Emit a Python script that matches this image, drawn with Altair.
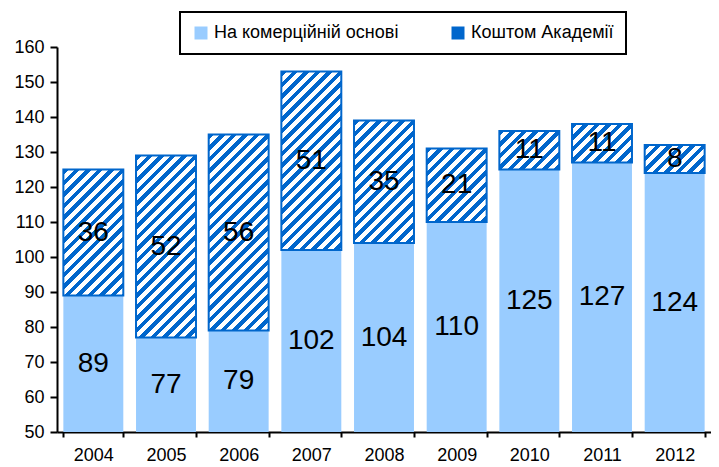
import altair as alt
import pandas as pd

# ---- data ----
years = ["2004", "2005", "2006", "2007", "2008", "2009", "2010", "2011", "2012"]
commercial = [89, 77, 79, 102, 104, 110, 125, 127, 124]
academy = [36, 52, 56, 51, 35, 21, 11, 11, 8]
series_names = ["На комерційній основі", "Коштом Академії"]
y_ticks = [50, 60, 70, 80, 90, 100, 110, 120, 130, 140, 150, 160]

# ---- layout / style ----
Y_MIN, Y_MAX = 50, 160
PLOT_W, PLOT_H = 654, 385
PAD_IN, PAD_OUT = 0.175, 0.0875
LIGHT = "#99CCFF"
DARK = "#0066CC"
FONT = "Liberation Sans"

step = PLOT_W / (len(years) - PAD_IN + 2 * PAD_OUT)
BAR_W = step * (1 - PAD_IN)
PX_PER_UNIT = PLOT_H / (Y_MAX - Y_MIN)


def hatch(W, H, period=11.5, frac=0.48):
    """Diagonal (/) stripes as a hard-stop linear gradient in bbox units."""
    S = W + H
    d = W * W + H * H
    x2 = (W + H) * W / d
    y2 = (W + H) * H / d
    stops = []
    pos = 0.0
    while pos < S:
        a = pos / S
        b = min((pos + period * frac) / S, 1.0)
        c = min((pos + period) / S, 1.0)
        stops += [(DARK, a), (DARK, b), ("#FFFFFF", b), ("#FFFFFF", c)]
        pos += period
    return {"gradient": "linear", "x1": 0, "y1": 0, "x2": x2, "y2": y2,
            "stops": [{"color": col, "offset": off} for col, off in stops]}


base_df = pd.DataFrame({
    "year": years,
    "series": series_names[0],
    "start": [0] * len(years),
    "end": commercial,
    "label": commercial,
    "mid": [(Y_MIN + c) / 2 for c in commercial],
})
top_df = pd.DataFrame({
    "year": years,
    "series": series_names[1],
    "start": commercial,
    "end": [c + a for c, a in zip(commercial, academy)],
    "label": academy,
    "mid": [c + a / 2 for c, a in zip(commercial, academy)],
})
labels_df = pd.concat([base_df, top_df], ignore_index=True)

x_scale = alt.Scale(domain=years, paddingInner=PAD_IN, paddingOuter=PAD_OUT)
x_axis = alt.Axis(
    title=None, labelAngle=0, tickBand="extent",
    domainColor="black", domainWidth=2, tickColor="black", tickWidth=2,
    tickSize=5, labelFontSize=18, labelFont=FONT, labelColor="black",
    labelPadding=9,
)
y_scale = alt.Scale(domain=[Y_MIN, Y_MAX], nice=False, zero=False)
y_axis = alt.Axis(
    title=None, values=y_ticks, grid=False, labelOverlap=False,
    domainColor="black", domainWidth=2, tickColor="black", tickWidth=2,
    tickSize=7, labelFontSize=18, labelFont=FONT, labelColor="black",
    labelPadding=6,
)


def X():
    return alt.X("year:N", scale=x_scale, axis=x_axis)


def Y(field):
    return alt.Y(field, scale=y_scale, axis=y_axis)


base_layer = alt.Chart(base_df).mark_bar(clip=True).encode(
    x=X(),
    y=Y("start:Q"),
    y2="end:Q",
    color=alt.Color(
        "series:N",
        scale=alt.Scale(domain=series_names, range=[LIGHT, DARK]),
        legend=alt.Legend(
            title=None, orient="none", legendX=123, legendY=-35,
            direction="horizontal", symbolType="square", symbolSize=169,
            symbolStrokeWidth=0, labelFontSize=18, labelFont=FONT,
            labelColor="black", columnPadding=50, padding=12,
            strokeColor="black", labelLimit=400,
        ),
    ),
)

hatch_layers = []
for i in range(len(years)):
    H = academy[i] * PX_PER_UNIT
    hatch_layers.append(
        alt.Chart(top_df.iloc[[i]]).mark_bar(
            fill=hatch(BAR_W, H), stroke=DARK, strokeWidth=2
        ).encode(
            x=X(),
            y=Y("start:Q"),
            y2="end:Q",
        )
    )

text_layer = alt.Chart(labels_df).mark_text(
    fontSize=28, font=FONT, color="black", baseline="middle", align="center"
).encode(
    x=X(),
    y=Y("mid:Q"),
    text="label:Q",
)

chart = alt.layer(base_layer, *hatch_layers, text_layer).properties(
    width=PLOT_W,
    height=PLOT_H,
    autosize="none",
    padding={"left": 49, "top": 39, "right": 0, "bottom": 35},
).configure_view(stroke=None).configure_legend(strokeWidth=2)

chart.save("out.html", embed_options={"renderer": "svg", "actions": False})
